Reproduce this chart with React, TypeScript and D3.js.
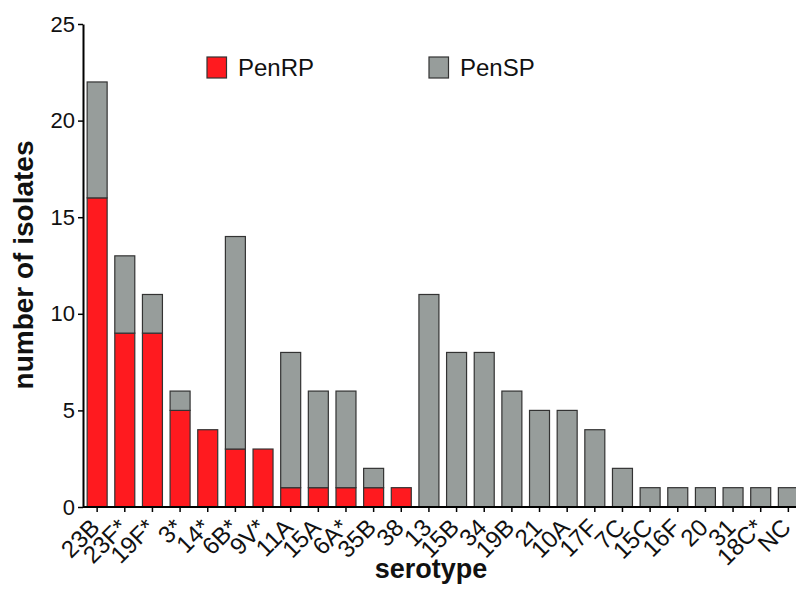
import React, { useEffect, useRef } from 'react';
import * as d3 from 'd3';

const serotypes = ['23B', '23F*', '19F*', '3*', '14*', '6B*', '9V*', '11A', '15A', '6A*', '35B', '38',
  '13', '15B', '34', '19B', '21', '10A', '17F', '7C', '15C', '16F', '20', '31', '18C*', 'NC'];
const penRP = [16, 9, 9, 5, 4, 3, 3, 1, 1, 1, 1, 1, 0, 0, 0, 0, 0, 0, 0, 0, 0, 0, 0, 0, 0, 0];
const penSP = [6, 4, 2, 1, 0, 11, 0, 7, 5, 5, 1, 0, 11, 8, 8, 6, 5, 5, 4, 2, 1, 1, 1, 1, 1, 1];
const yTicks = [0, 5, 10, 15, 20, 25];
const seriesNames = ['PenRP', 'PenSP'];

const RED = '#ff1a1f';
const GRAY = '#979d9b';
const STROKE = '#333';

export default function App() {
  const svgRef = useRef<SVGSVGElement>(null);

  useEffect(() => {
    if (!svgRef.current) return;
    const svg = d3.select(svgRef.current);
    svg.selectAll('*').remove();

    const x0 = 83;
    const yBase = 507;
    const font = 'Liberation Sans, Arial, sans-serif';

    const x = d3.scaleBand<string>()
      .domain(serotypes)
      .range([x0, 802.5])
      .paddingInner(0.277)
      .paddingOuter(0.15);

    const y = d3.scaleLinear().domain([0, 25]).range([yBase, 24]);

    const rows = serotypes.map((s, i) => ({ s, r: penRP[i], p: penSP[i] }));
    const stack = d3.stack<any>().keys(['r', 'p'])(rows);
    const colors = [RED, GRAY];

    stack.forEach((layer, li) => {
      svg.append('g')
        .selectAll('rect')
        .data(layer.filter(d => d[1] > d[0]))
        .enter()
        .append('rect')
        .attr('x', d => x(d.data.s) as number)
        .attr('width', x.bandwidth())
        .attr('y', d => y(d[1]))
        .attr('height', d => y(d[0]) - y(d[1]))
        .attr('fill', colors[li])
        .attr('stroke', STROKE)
        .attr('stroke-width', 1.2);
    });

    // y axis
    const yAxis = svg.append('g')
      .attr('transform', `translate(${x0},0)`)
      .call(d3.axisLeft(y).tickValues(yTicks).tickSize(5).tickPadding(3).tickSizeOuter(0));
    yAxis.select('.domain').attr('stroke', '#000').attr('stroke-width', 2);
    yAxis.selectAll('.tick line').attr('stroke', '#000').attr('stroke-width', 1.5);
    yAxis.selectAll('.tick text')
      .attr('font-family', font)
      .attr('font-size', 22)
      .attr('fill', '#111');

    // x axis, labels turned 45 degrees
    const xAxis = svg.append('g')
      .attr('transform', `translate(0,${yBase})`)
      .call(d3.axisBottom(x).tickSize(5).tickSizeOuter(0));
    xAxis.select('.domain').attr('stroke', '#000').attr('stroke-width', 2)
      .attr('d', `M${x0},0H800`);
    xAxis.selectAll('.tick line').attr('stroke', '#000').attr('stroke-width', 1.5);
    xAxis.selectAll('.tick text')
      .attr('font-family', font)
      .attr('font-size', 24)
      .attr('fill', '#111')
      .attr('text-anchor', 'end')
      .attr('y', 0)
      .attr('dy', 0)
      .attr('transform', 'translate(4,22) rotate(-45)');

    // axis titles
    svg.append('text')
      .attr('transform', `translate(33,265) rotate(-90)`)
      .attr('text-anchor', 'middle')
      .attr('font-family', font)
      .attr('font-weight', 'bold')
      .attr('font-size', 28)
      .attr('fill', '#111')
      .text('number of isolates');

    svg.append('text')
      .attr('x', 431)
      .attr('y', 578)
      .attr('text-anchor', 'middle')
      .attr('font-family', font)
      .attr('font-weight', 'bold')
      .attr('font-size', 27)
      .attr('fill', '#111')
      .text('serotype');

    // legend
    const legendX = [207, 429];
    seriesNames.forEach((name, i) => {
      const g = svg.append('g').attr('transform', `translate(${legendX[i]},57)`);
      g.append('rect')
        .attr('width', 19.5)
        .attr('height', 21)
        .attr('fill', colors[i])
        .attr('stroke', STROKE)
        .attr('stroke-width', 1.2);
      g.append('text')
        .attr('x', 31)
        .attr('y', 19)
        .attr('font-family', font)
        .attr('font-size', 24)
        .attr('fill', '#111')
        .text(name);
    });
  }, []);

  return (
    <svg
      ref={svgRef}
      width={796}
      height={589}
      style={{ position: 'absolute', left: 0, top: 0, background: '#fff' }}
    />
  );
}
